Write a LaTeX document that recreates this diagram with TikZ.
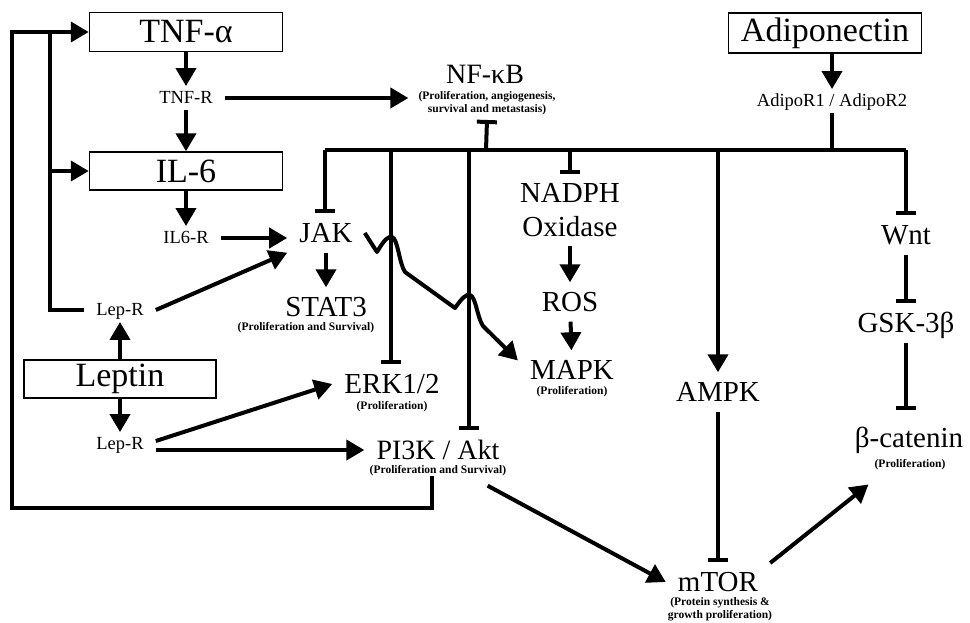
\documentclass[tikz,border=0pt]{standalone}
\usepackage{fontspec}
\setmainfont{Liberation Serif}
\usetikzlibrary{arrows.meta,calc}
\tikzset{
  hub/.style={draw, line width=1.5pt, minimum width=193pt, minimum height=39pt, inner sep=0pt, font=\fontsize{34}{34}\selectfont},
  mol/.style={inner xsep=12pt, inner ysep=9pt, text height=19.5pt, text depth=1.5pt, font=\fontsize{29}{29}\selectfont},
  duo/.style={inner xsep=12pt, inner ysep=9pt, align=center, font=\fontsize{29}{34}\selectfont},
  rcp/.style={inner xsep=12pt, inner ysep=5pt, text height=12.5pt, text depth=1pt, font=\fontsize{18.5}{18.5}\selectfont},
  note/.style={inner sep=0pt, align=center, font=\bfseries\fontsize{11.5}{13}\selectfont},
  link/.style={line width=4pt},
  act/.style={link, -{Triangle[length=18pt,width=20pt]}},
  inh/.style={link, -{Bar[width=20pt]}},
}
\begin{document}
\begin{tikzpicture}[x=1pt,y=-1pt]
\useasboundingbox (0,0) rectangle (970,622);
% adipokines and receptors
\node[hub] (tnf) at (186,32) {TNF-α};
\node[rcp] (tnfr) at (186,98) {TNF-R};
\node[hub, minimum height=38pt] (il6) at (186,171) {IL-6};
\node[rcp] (il6r) at (186,238) {IL6-R};
\node[rcp] (lepra) at (120,310) {Lep-R};
\node[hub, minimum width=192pt, minimum height=38pt] (leptin) at (120,379) {Leptin};
\node[rcp] (leprb) at (120,444) {Lep-R};
\node[hub, minimum height=40pt] (adipo) at (825,33) {Adiponectin};
\node[rcp] (adipor) at (832,101) {AdipoR1 / AdipoR2};
% signalling
\node[mol, font=\fontsize{28}{28}\selectfont] (nfkb) at (485,74) {NF-κB};
\node[note] (nfkbn) at (487,103) {(Proliferation, angiogenesis,\\survival and metastasis)};
\node[mol] (jak) at (326,233) {JAK};
\node[mol] (stat) at (326,307) {STAT3};
\node[note] (statn) at (306,328) {(Proliferation and Survival)};
\node[mol] (erk) at (392,384) {ERK1/2};
\node[note] (erkn) at (392,407) {(Proliferation)};
\node[mol, font=\fontsize{28}{28}\selectfont] (pi3k) at (438,450) {PI3K / Akt};
\node[note] (pi3kn) at (438,471) {(Proliferation and Survival)};
\node[duo] (nadph) at (570,210) {NADPH\\Oxidase};
\node[mol] (ros) at (570,302) {ROS};
\node[mol] (mapk) at (572,370) {MAPK};
\node[note] (mapkn) at (572,392) {(Proliferation)};
\node[mol] (ampk) at (718,392) {AMPK};
\node[mol] (wnt) at (906,235) {Wnt};
\node[mol] (gsk) at (906,323) {GSK-3β};
\node[mol] (bcat) at (909,438) {β-catenin};
\node[note] (bcatn) at (910,465) {(Proliferation)};
\node[mol] (mtor) at (718,582) {mTOR};
\node[note] (mtorn) at (720,609) {(Protein synthesis \&\\growth proliferation)};
% junctions
\coordinate (jn) at (50,32);
\coordinate (lp) at (12,508);
\coordinate (b1) at (325,150);
\coordinate (b2) at (391,150);
\coordinate (b3) at (469,150);
\coordinate (bnf) at (486,150);
\coordinate (b4) at (570,150);
\coordinate (b5) at (718,150);
\coordinate (b6) at (832,150);
\coordinate (b7) at (906,150);
% left side
\draw[act] (tnf) -- (tnfr);
\draw[act] (tnfr) -- (il6);
\draw[act] (il6) -- (il6r);
\draw[act, shorten >=10pt] (tnfr.east) -- (tnfr.east -| nfkbn.west);
\draw[act] (il6r) -- (il6r -| jak.west);
\draw[act] (lepra.east) -- (jak.south west);
\draw[act] (leptin) -- (lepra);
\draw[act] (leptin) -- (leprb);
\draw[act] (lepra.west) -| (jn) -- (tnf.west);
\draw[act] (jn |- il6.west) -- (il6.west);
\draw[link] ([xshift=-6pt]pi3kn.south) |- (lp) |- (jn);
\draw[act] ([yshift=3pt]leprb.east) -- (erk.west);
\draw[act] (leprb.east |- pi3k.west) -- (pi3k.west);
\draw[act] (jak) -- (stat);
% adiponectin branches
\draw[act] (adipo.south -| adipor) -- (adipor);
\draw[link] (adipor) -- (b6);
\draw[link] (b1) -- (b7);
\draw[inh] (bnf) -- ([yshift=-5pt]nfkbn.south);
\draw[inh] (b1) -- (b1 |- jak.north);
\draw[inh] (b2) -- (b2 |- erk.north);
\draw[inh] (b3) -- (b3 |- pi3k.north);
\draw[inh] (b4) -- (nadph);
\draw[act] (b5) -- (ampk);
\draw[inh] (b7) -- (wnt);
\draw[inh] (wnt) -- (gsk);
\draw[inh, shorten >=8pt] (gsk) -- (gsk |- bcat.north);
\draw[act] (nadph) -- (ros);
\draw[act] (ros) -- (mapk);
\draw[inh] (ampk) -- (mtor);
% JAK to MAPK, hopping over the two lines
\draw[act, line join=round] (jak.east) -- (377,252)
  .. controls (384,240) and (388,236) .. (392,237)
  .. controls (398,239) and (399,263) .. (405,272)
  -- (455,308)
  .. controls (462,298) and (466,294) .. (470,295)
  .. controls (476,297) and (477,317) .. (483,326)
  -- (mapk.170);
% mTOR
\draw[act] ([shift={(-24pt,-16pt)}]pi3k.south east) -- (mtor.west);
\draw[act] (mtor.20) -- ([shift={(-6pt,-14pt)}]bcatn.south west);
\end{tikzpicture}
\end{document}
